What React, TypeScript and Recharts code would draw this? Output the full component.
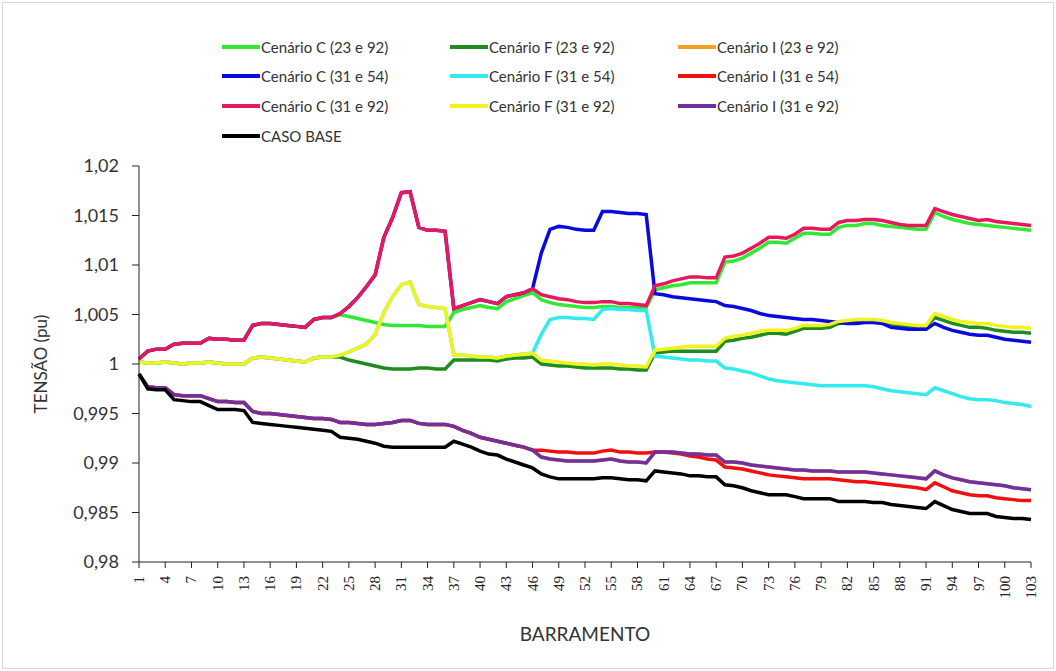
import { LineChart, Line, XAxis, YAxis } from 'recharts';

// Barramentos 1..103
const buses = Array.from({ length: 103 }, (_, i) => String(i + 1));

const cenarioC2392 = [
  1.0005, 1.0013, 1.0015, 1.0015, 1.0020, 1.0021, 1.0021, 1.0021, 1.0026, 1.0025,
  1.0025, 1.0024, 1.0024, 1.0039, 1.0041, 1.0041, 1.0040, 1.0039, 1.0038, 1.0037,
  1.0045, 1.0047, 1.0047, 1.0050, 1.0048, 1.0046, 1.0044, 1.0042, 1.0040, 1.0039,
  1.0039, 1.0039, 1.0039, 1.0038, 1.0038, 1.0038, 1.0052, 1.0055, 1.0057, 1.0059,
  1.0057, 1.0056, 1.0063, 1.0066, 1.0069, 1.0072, 1.0065, 1.0062, 1.0060, 1.0059,
  1.0058, 1.0057, 1.0057, 1.0058, 1.0058, 1.0057, 1.0057, 1.0057, 1.0057, 1.0075,
  1.0077, 1.0079, 1.0080, 1.0082, 1.0082, 1.0082, 1.0082, 1.0103, 1.0104, 1.0107,
  1.0112, 1.0117, 1.0123, 1.0123, 1.0122, 1.0127, 1.0132, 1.0132, 1.0131, 1.0131,
  1.0138, 1.0140, 1.0140, 1.0142, 1.0142, 1.0140, 1.0139, 1.0138, 1.0137, 1.0136,
  1.0136, 1.0153, 1.0149, 1.0146, 1.0144, 1.0142, 1.0141, 1.0140, 1.0139, 1.0138,
  1.0137, 1.0136, 1.0135,
];

const cenarioF2392 = [
  1.0002, 1.0001, 1.0001, 1.0002, 1.0001, 1.0000, 1.0001, 1.0001, 1.0002, 1.0001,
  1.0000, 1.0000, 1.0000, 1.0006, 1.0007, 1.0006, 1.0005, 1.0004, 1.0003, 1.0002,
  1.0006, 1.0007, 1.0007, 1.0007, 1.0004, 1.0002, 1.0000, 0.9998, 0.9996, 0.9995,
  0.9995, 0.9995, 0.9996, 0.9996, 0.9995, 0.9995, 1.0004, 1.0004, 1.0004, 1.0004,
  1.0004, 1.0003, 1.0005, 1.0006, 1.0006, 1.0007, 1.0000, 0.9999, 0.9998, 0.9998,
  0.9997, 0.9996, 0.9996, 0.9996, 0.9996, 0.9995, 0.9995, 0.9994, 0.9994, 1.0011,
  1.0012, 1.0013, 1.0013, 1.0013, 1.0013, 1.0013, 1.0013, 1.0023, 1.0024, 1.0026,
  1.0027, 1.0029, 1.0031, 1.0031, 1.0030, 1.0033, 1.0036, 1.0036, 1.0036, 1.0037,
  1.0041, 1.0042, 1.0043, 1.0043, 1.0043, 1.0042, 1.0040, 1.0039, 1.0038, 1.0038,
  1.0038, 1.0047, 1.0044, 1.0041, 1.0039, 1.0037, 1.0037, 1.0036, 1.0034, 1.0033,
  1.0032, 1.0032, 1.0031,
];

const cenarioI2392 = [
  0.9990, 0.9977, 0.9976, 0.9976, 0.9969, 0.9968, 0.9968, 0.9968, 0.9965, 0.9962,
  0.9962, 0.9961, 0.9961, 0.9952, 0.9950, 0.9950, 0.9949, 0.9948, 0.9947, 0.9946,
  0.9945, 0.9945, 0.9944, 0.9941, 0.9941, 0.9940, 0.9939, 0.9939, 0.9940, 0.9941,
  0.9943, 0.9943, 0.9940, 0.9939, 0.9939, 0.9939, 0.9937, 0.9933, 0.9930, 0.9926,
  0.9924, 0.9922, 0.9920, 0.9918, 0.9916, 0.9913, 0.9906, 0.9904, 0.9903, 0.9902,
  0.9902, 0.9902, 0.9902, 0.9903, 0.9904, 0.9902, 0.9901, 0.9901, 0.9900, 0.9911,
  0.9911, 0.9911, 0.9910, 0.9909, 0.9909, 0.9908, 0.9908, 0.9901, 0.9901, 0.9900,
  0.9898, 0.9897, 0.9896, 0.9895, 0.9894, 0.9893, 0.9893, 0.9892, 0.9892, 0.9892,
  0.9891, 0.9891, 0.9891, 0.9891, 0.9890, 0.9889, 0.9888, 0.9887, 0.9886, 0.9885,
  0.9884, 0.9892, 0.9888, 0.9885, 0.9883, 0.9881, 0.9880, 0.9879, 0.9878, 0.9877,
  0.9875, 0.9874, 0.9873,
];

const cenarioC3154 = [
  1.0005, 1.0013, 1.0015, 1.0015, 1.0020, 1.0021, 1.0021, 1.0021, 1.0026, 1.0025,
  1.0025, 1.0024, 1.0024, 1.0039, 1.0041, 1.0041, 1.0040, 1.0039, 1.0038, 1.0037,
  1.0045, 1.0047, 1.0047, 1.0051, 1.0058, 1.0067, 1.0078, 1.0090, 1.0128, 1.0148,
  1.0173, 1.0174, 1.0138, 1.0135, 1.0135, 1.0134, 1.0056, 1.0059, 1.0062, 1.0065,
  1.0063, 1.0061, 1.0068, 1.0070, 1.0072, 1.0076, 1.0112, 1.0136, 1.0139, 1.0138,
  1.0136, 1.0135, 1.0135, 1.0154, 1.0154, 1.0153, 1.0152, 1.0152, 1.0151, 1.0071,
  1.0070, 1.0068, 1.0067, 1.0066, 1.0065, 1.0064, 1.0063, 1.0059, 1.0058, 1.0056,
  1.0054, 1.0051, 1.0049, 1.0048, 1.0047, 1.0046, 1.0045, 1.0045, 1.0044, 1.0043,
  1.0042, 1.0041, 1.0041, 1.0042, 1.0042, 1.0041, 1.0037, 1.0036, 1.0035, 1.0035,
  1.0035, 1.0041, 1.0037, 1.0034, 1.0032, 1.0030, 1.0029, 1.0029, 1.0027, 1.0025,
  1.0024, 1.0023, 1.0022,
];

const cenarioF3154 = [
  1.0002, 1.0001, 1.0001, 1.0002, 1.0001, 1.0000, 1.0001, 1.0001, 1.0002, 1.0001,
  1.0000, 1.0000, 1.0000, 1.0006, 1.0007, 1.0006, 1.0005, 1.0004, 1.0003, 1.0002,
  1.0006, 1.0007, 1.0007, 1.0009, 1.0012, 1.0016, 1.0020, 1.0030, 1.0052, 1.0068,
  1.0080, 1.0083, 1.0060, 1.0058, 1.0057, 1.0056, 1.0009, 1.0009, 1.0008, 1.0007,
  1.0007, 1.0006, 1.0008, 1.0009, 1.0010, 1.0011, 1.0030, 1.0045, 1.0047, 1.0047,
  1.0046, 1.0046, 1.0045, 1.0055, 1.0056, 1.0055, 1.0055, 1.0054, 1.0054, 1.0008,
  1.0007, 1.0006, 1.0005, 1.0004, 1.0004, 1.0003, 1.0003, 0.9996, 0.9995, 0.9993,
  0.9991, 0.9988, 0.9985, 0.9983, 0.9982, 0.9981, 0.9980, 0.9979, 0.9978, 0.9978,
  0.9978, 0.9978, 0.9978, 0.9978, 0.9977, 0.9975, 0.9973, 0.9972, 0.9971, 0.9970,
  0.9969, 0.9976, 0.9973, 0.9970, 0.9967, 0.9965, 0.9964, 0.9964, 0.9963, 0.9961,
  0.9960, 0.9959, 0.9957,
];

const cenarioI3154 = [
  0.9990, 0.9977, 0.9976, 0.9976, 0.9969, 0.9968, 0.9968, 0.9968, 0.9965, 0.9962,
  0.9962, 0.9961, 0.9961, 0.9952, 0.9950, 0.9950, 0.9949, 0.9948, 0.9947, 0.9946,
  0.9945, 0.9945, 0.9944, 0.9941, 0.9941, 0.9940, 0.9939, 0.9939, 0.9940, 0.9941,
  0.9943, 0.9943, 0.9940, 0.9939, 0.9939, 0.9939, 0.9937, 0.9933, 0.9930, 0.9926,
  0.9924, 0.9922, 0.9920, 0.9918, 0.9916, 0.9913, 0.9913, 0.9912, 0.9911, 0.9911,
  0.9910, 0.9910, 0.9910, 0.9912, 0.9913, 0.9911, 0.9911, 0.9910, 0.9910, 0.9911,
  0.9911, 0.9910, 0.9909, 0.9907, 0.9906, 0.9904, 0.9903, 0.9896, 0.9895, 0.9894,
  0.9892, 0.9890, 0.9888, 0.9887, 0.9886, 0.9885, 0.9884, 0.9884, 0.9884, 0.9884,
  0.9883, 0.9882, 0.9881, 0.9881, 0.9880, 0.9879, 0.9878, 0.9877, 0.9876, 0.9875,
  0.9873, 0.9880, 0.9876, 0.9872, 0.9870, 0.9868, 0.9867, 0.9867, 0.9865, 0.9864,
  0.9863, 0.9862, 0.9862,
];

const cenarioC3192 = [
  1.0005, 1.0013, 1.0015, 1.0015, 1.0020, 1.0021, 1.0021, 1.0021, 1.0026, 1.0025,
  1.0025, 1.0024, 1.0024, 1.0039, 1.0041, 1.0041, 1.0040, 1.0039, 1.0038, 1.0037,
  1.0045, 1.0047, 1.0047, 1.0051, 1.0058, 1.0067, 1.0078, 1.0090, 1.0128, 1.0148,
  1.0173, 1.0174, 1.0138, 1.0135, 1.0135, 1.0134, 1.0056, 1.0059, 1.0062, 1.0065,
  1.0063, 1.0061, 1.0068, 1.0070, 1.0072, 1.0076, 1.0070, 1.0068, 1.0066, 1.0065,
  1.0063, 1.0062, 1.0062, 1.0063, 1.0063, 1.0061, 1.0061, 1.0060, 1.0059, 1.0079,
  1.0081, 1.0084, 1.0086, 1.0088, 1.0088, 1.0087, 1.0087, 1.0108, 1.0109, 1.0112,
  1.0117, 1.0122, 1.0128, 1.0128, 1.0127, 1.0131, 1.0137, 1.0137, 1.0136, 1.0136,
  1.0143, 1.0145, 1.0145, 1.0146, 1.0146, 1.0145, 1.0143, 1.0141, 1.0140, 1.0140,
  1.0140, 1.0157, 1.0154, 1.0151, 1.0149, 1.0147, 1.0145, 1.0146, 1.0144, 1.0143,
  1.0142, 1.0141, 1.0140,
];

const cenarioF3192 = [
  1.0002, 1.0001, 1.0001, 1.0002, 1.0001, 1.0000, 1.0001, 1.0001, 1.0002, 1.0001,
  1.0000, 1.0000, 1.0000, 1.0006, 1.0007, 1.0006, 1.0005, 1.0004, 1.0003, 1.0002,
  1.0006, 1.0007, 1.0007, 1.0009, 1.0012, 1.0016, 1.0020, 1.0030, 1.0052, 1.0068,
  1.0080, 1.0083, 1.0060, 1.0058, 1.0057, 1.0056, 1.0009, 1.0009, 1.0008, 1.0007,
  1.0007, 1.0006, 1.0008, 1.0009, 1.0010, 1.0011, 1.0004, 1.0003, 1.0002, 1.0001,
  1.0000, 1.0000, 0.9999, 1.0000, 1.0000, 0.9999, 0.9998, 0.9998, 0.9997, 1.0014,
  1.0015, 1.0016, 1.0017, 1.0018, 1.0018, 1.0018, 1.0018, 1.0026, 1.0028, 1.0029,
  1.0031, 1.0033, 1.0034, 1.0034, 1.0034, 1.0036, 1.0039, 1.0039, 1.0039, 1.0040,
  1.0043, 1.0044, 1.0045, 1.0045, 1.0045, 1.0044, 1.0042, 1.0041, 1.0040, 1.0039,
  1.0039, 1.0051, 1.0048, 1.0045, 1.0043, 1.0042, 1.0041, 1.0041, 1.0039, 1.0038,
  1.0037, 1.0037, 1.0036,
];

const cenarioI3192 = [
  0.9990, 0.9977, 0.9976, 0.9976, 0.9969, 0.9968, 0.9968, 0.9968, 0.9965, 0.9962,
  0.9962, 0.9961, 0.9961, 0.9952, 0.9950, 0.9950, 0.9949, 0.9948, 0.9947, 0.9946,
  0.9945, 0.9945, 0.9944, 0.9941, 0.9941, 0.9940, 0.9939, 0.9939, 0.9940, 0.9941,
  0.9943, 0.9943, 0.9940, 0.9939, 0.9939, 0.9939, 0.9937, 0.9933, 0.9930, 0.9926,
  0.9924, 0.9922, 0.9920, 0.9918, 0.9916, 0.9913, 0.9906, 0.9904, 0.9903, 0.9902,
  0.9902, 0.9902, 0.9902, 0.9903, 0.9904, 0.9902, 0.9901, 0.9901, 0.9900, 0.9911,
  0.9911, 0.9911, 0.9910, 0.9909, 0.9909, 0.9908, 0.9908, 0.9901, 0.9901, 0.9900,
  0.9898, 0.9897, 0.9896, 0.9895, 0.9894, 0.9893, 0.9893, 0.9892, 0.9892, 0.9892,
  0.9891, 0.9891, 0.9891, 0.9891, 0.9890, 0.9889, 0.9888, 0.9887, 0.9886, 0.9885,
  0.9884, 0.9892, 0.9888, 0.9885, 0.9883, 0.9881, 0.9880, 0.9879, 0.9878, 0.9877,
  0.9875, 0.9874, 0.9873,
];

const casoBase = [
  0.9990, 0.9975, 0.9974, 0.9974, 0.9964, 0.9963, 0.9962, 0.9962, 0.9958, 0.9954,
  0.9954, 0.9954, 0.9953, 0.9941, 0.9940, 0.9939, 0.9938, 0.9937, 0.9936, 0.9935,
  0.9934, 0.9933, 0.9932, 0.9926, 0.9925, 0.9924, 0.9922, 0.9920, 0.9917, 0.9916,
  0.9916, 0.9916, 0.9916, 0.9916, 0.9916, 0.9916, 0.9922, 0.9919, 0.9916, 0.9912,
  0.9909, 0.9908, 0.9904, 0.9901, 0.9898, 0.9895, 0.9889, 0.9886, 0.9884, 0.9884,
  0.9884, 0.9884, 0.9884, 0.9885, 0.9885, 0.9884, 0.9883, 0.9883, 0.9882, 0.9892,
  0.9891, 0.9890, 0.9889, 0.9887, 0.9887, 0.9886, 0.9886, 0.9878, 0.9877, 0.9875,
  0.9872, 0.9870, 0.9868, 0.9868, 0.9868, 0.9866, 0.9864, 0.9864, 0.9864, 0.9864,
  0.9861, 0.9861, 0.9861, 0.9861, 0.9860, 0.9860, 0.9858, 0.9857, 0.9856, 0.9855,
  0.9854, 0.9861, 0.9857, 0.9853, 0.9851, 0.9849, 0.9849, 0.9849, 0.9846, 0.9845,
  0.9844, 0.9844, 0.9843,
];

const yTicks = [0.98, 0.985, 0.99, 0.995, 1, 1.005, 1.01, 1.015, 1.02];

// legend order (row by row, 3 columns) is also the drawing order
const series = [
  { key: 'c2392', name: 'Cenário C (23 e 92)', color: '#33e833', values: cenarioC2392 },
  { key: 'f2392', name: 'Cenário F (23 e 92)', color: '#1e8c1e', values: cenarioF2392 },
  { key: 'i2392', name: 'Cenário I (23 e 92)', color: '#f4a020', values: cenarioI2392 },
  { key: 'c3154', name: 'Cenário C (31 e 54)', color: '#0a0ae0', values: cenarioC3154 },
  { key: 'f3154', name: 'Cenário F (31 e 54)', color: '#33eaf0', values: cenarioF3154 },
  { key: 'i3154', name: 'Cenário I (31 e 54)', color: '#f01010', values: cenarioI3154 },
  { key: 'c3192', name: 'Cenário C (31 e 92)', color: '#e8185e', values: cenarioC3192 },
  { key: 'f3192', name: 'Cenário F (31 e 92)', color: '#f2f21e', values: cenarioF3192 },
  { key: 'i3192', name: 'Cenário I (31 e 92)', color: '#7030a0', values: cenarioI3192 },
  { key: 'base', name: 'CASO BASE', color: '#000000', values: casoBase },
];

const data = buses.map((bus, i) => {
  const row: Record<string, string | number> = { bus };
  series.forEach((s) => (row[s.key] = s.values[i]));
  return row;
});

const fmt = (v: number) => String(Number(v.toFixed(3))).replace('.', ',');

const SANS = "Lato, 'Open Sans', sans-serif";

function BusTick({ x, y, payload }: any) {
  return (
    <text
      x={x}
      y={y}
      transform={`rotate(-90 ${x} ${y})`}
      textAnchor="end"
      dominantBaseline="central"
      fontFamily="'Liberation Serif', serif"
      fontSize={15}
      fill="#222"
    >
      {payload.value}
    </text>
  );
}

// y axis title, centred on the plot's vertical middle
function YTitle({ viewBox }: any) {
  const cx = 40;
  const cy = viewBox.y + viewBox.height / 2;
  return (
    <text
      x={cx}
      y={cy}
      transform={`rotate(-90 ${cx} ${cy})`}
      textAnchor="middle"
      dominantBaseline="central"
      fontFamily={SANS}
      fontSize={17}
      fill="#333"
    >
      TENSÃO (pu)
    </text>
  );
}

export default function App() {
  return (
    <div
      style={{
        position: 'absolute',
        left: 0,
        top: 0,
        width: 1056,
        height: 671,
        background: '#fff',
        fontFamily: SANS,
      }}
    >
      <div
        style={{
          position: 'absolute',
          left: 2,
          top: 2,
          width: 1050,
          height: 665,
          border: '1px solid #d8d8d8',
        }}
      />
      <LineChart
        width={1056}
        height={671}
        data={data}
        margin={{ top: 166, right: 25, left: 79, bottom: 59 }}
      >
        <XAxis
          dataKey="bus"
          interval={2}
          tick={<BusTick />}
          tickSize={6}
          tickMargin={8}
          height={50}
          stroke="#222"
          tickLine={{ stroke: '#222' }}
        />
        <YAxis
          domain={[0.98, 1.02]}
          ticks={yTicks}
          tickFormatter={fmt}
          width={60}
          tickSize={7}
          tickMargin={13}
          stroke="#222"
          tick={{ fill: '#333', fontSize: 18, fontFamily: SANS }}
          label={<YTitle />}
          allowDataOverflow
        />
        {series.map((s) => (
          <Line
            key={s.key}
            type="linear"
            dataKey={s.key}
            name={s.name}
            stroke={s.color}
            strokeWidth={3.5}
            dot={false}
            activeDot={false}
            isAnimationActive={false}
          />
        ))}
      </LineChart>

      {/* legend: 3 columns, row by row */}
      {series.map((s, i) => {
        const col = i % 3;
        const row = Math.floor(i / 3);
        const left = [222, 450, 678][col];
        const top = [47, 76, 106, 136][row];
        return (
          <div
            key={s.key}
            style={{
              position: 'absolute',
              left,
              top: top - 10,
              height: 20,
              display: 'flex',
              alignItems: 'center',
              whiteSpace: 'nowrap',
              fontSize: 15,
              color: '#333',
            }}
          >
            <span
              style={{
                display: 'inline-block',
                width: 38,
                height: 4,
                background: s.color,
                marginRight: 1,
              }}
            />
            {s.name}
          </div>
        );
      })}

      <div
        style={{
          position: 'absolute',
          left: 585 - 100,
          top: 634 - 13,
          width: 200,
          height: 26,
          lineHeight: '26px',
          textAlign: 'center',
          fontSize: 19,
          color: '#333',
          whiteSpace: 'nowrap',
        }}
      >
        BARRAMENTO
      </div>
    </div>
  );
}
